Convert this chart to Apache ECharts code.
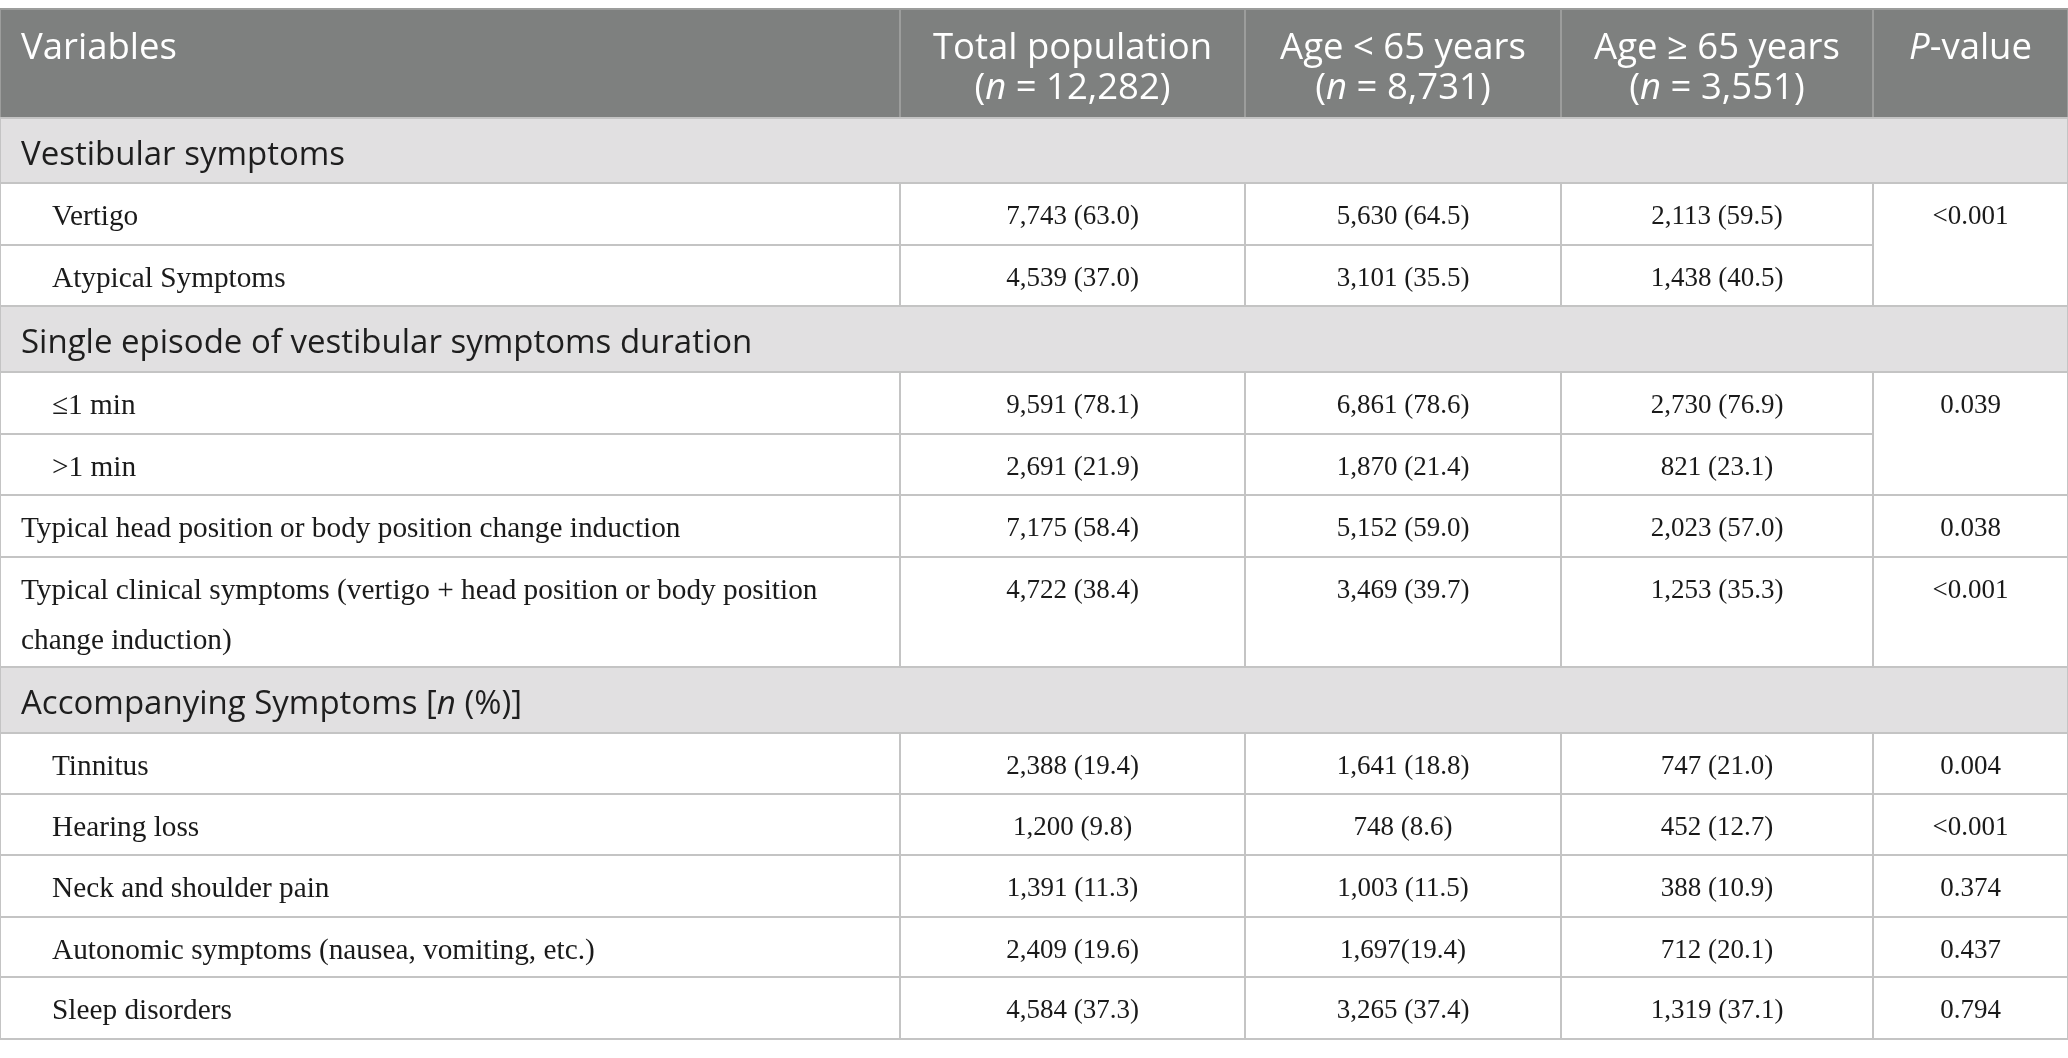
<!DOCTYPE html>
<html>
<head>
<meta charset="utf-8">
<script src="https://cdn.jsdelivr.net/npm/echarts@6/dist/echarts.min.js"></script>
<style>
  html, body { margin: 0; padding: 0; background: #fff; }
  #main { width: 2068px; height: 1058px; }
</style>
</head>
<body>
<div id="main"></div>
<script>
// table content
const headerLabels = [
  'Variables',
  'Total population\n({i|n} = 12,282)',
  'Age < 65 years\n({i|n} = 8,731)',
  'Age ≥ 65 years\n({i|n} = 3,551)',
  '{i|P}-value'
];
const rowLabels = [
  'Vestibular symptoms',
  'Vertigo',
  'Atypical Symptoms',
  'Single episode of vestibular symptoms duration',
  '≤1 min',
  '>1 min',
  'Typical head position or body position change induction',
  'Typical clinical symptoms (vertigo + head position or body position\nchange induction)',
  'Accompanying Symptoms [{i|n} (%)]',
  'Tinnitus',
  'Hearing loss',
  'Neck and shoulder pain',
  'Autonomic symptoms (nausea, vomiting, etc.)',
  'Sleep disorders'
];
const rowKinds = ['group', 'sub', 'sub', 'group', 'sub', 'sub', 'plain', 'plain', 'group', 'sub', 'sub', 'sub', 'sub', 'sub'];
const totalPopulation = [null, '7,743 (63.0)', '4,539 (37.0)', null, '9,591 (78.1)', '2,691 (21.9)', '7,175 (58.4)', '4,722 (38.4)', null, '2,388 (19.4)', '1,200 (9.8)', '1,391 (11.3)', '2,409 (19.6)', '4,584 (37.3)'];
const ageBelow65 = [null, '5,630 (64.5)', '3,101 (35.5)', null, '6,861 (78.6)', '1,870 (21.4)', '5,152 (59.0)', '3,469 (39.7)', null, '1,641 (18.8)', '748 (8.6)', '1,003 (11.5)', '1,697(19.4)', '3,265 (37.4)'];
const ageAbove65 = [null, '2,113 (59.5)', '1,438 (40.5)', null, '2,730 (76.9)', '821 (23.1)', '2,023 (57.0)', '1,253 (35.3)', null, '747 (21.0)', '452 (12.7)', '388 (10.9)', '712 (20.1)', '1,319 (37.1)'];
const pValues = [null, '<0.001', null, null, '0.039', null, '0.038', '<0.001', null, '0.004', '<0.001', '0.374', '0.437', '0.794'];
// how many rows each P-value cell covers (0 = merged into the one above)
const pRowSpan = [0, 2, 0, 0, 2, 0, 1, 1, 0, 1, 1, 1, 1, 1];

// layout (in axis units, 1 unit = 1 px)
const colEdges = [0, 900, 1245, 1561, 1873, 2068];
const tableTop = 9;
const headerHeight = 109;
const rowHeights = [65, 62, 61, 66, 62, 61, 62, 110, 66, 61, 61, 62, 60, 62];

const rowTops = [];
let yAcc = tableTop + headerHeight;
rowHeights.forEach(h => { rowTops.push(yAcc); yAcc += h; });

const valueColumns = [totalPopulation, ageBelow65, ageAbove65];

// build the list of cells
const cells = [];
headerLabels.forEach((label, c) => {
  cells.push({ kind: 'header', text: label, c0: c, c1: c + 1, y0: tableTop, y1: tableTop + headerHeight });
});
rowLabels.forEach((label, r) => {
  const y0 = rowTops[r], y1 = y0 + rowHeights[r];
  if (rowKinds[r] === 'group') {
    cells.push({ kind: 'group', text: label, c0: 0, c1: colEdges.length - 1, y0, y1 });
    return;
  }
  cells.push({ kind: rowKinds[r], text: label, c0: 0, c1: 1, y0, y1 });
  valueColumns.forEach((col, k) => {
    cells.push({ kind: 'value', text: col[r], c0: k + 1, c1: k + 2, y0, y1 });
  });
  if (pRowSpan[r] > 0) {
    let yEnd = y0;
    for (let j = r; j < r + pRowSpan[r]; j++) yEnd += rowHeights[j];
    cells.push({ kind: 'value', text: pValues[r], c0: 4, c1: 5, y0, y1: yEnd });
  }
});

const SANS = '"Open Sans", "Noto Sans", sans-serif';
const SERIF = '"Liberation Serif", "DejaVu Serif", serif';

function renderCell(params, api) {
  const cell = cells[params.dataIndex];
  const p0 = api.coord([colEdges[cell.c0], cell.y0]);
  const p1 = api.coord([colEdges[cell.c1], cell.y1]);
  const w = p1[0] - p0[0], h = p1[1] - p0[1];
  let fill = '#ffffff', stroke = '#c4c4c4';
  let font = '27px ' + SERIF, color = '#1a1a1a';
  let tx = p0[0] + w / 2, align = 'center', ty, vAlign = 'top', lh = 50;
  if (cell.kind === 'header') {
    fill = '#7e807f'; stroke = '#9c9d9c';
    font = '36.5px ' + SANS; color = '#ffffff'; lh = 40;
    ty = p0[1] + 19.5;
    if (cell.c0 === 0) { tx = p0[0] + 21; align = 'left'; }
  } else if (cell.kind === 'group') {
    fill = '#e1e0e1';
    font = '33px ' + SANS; color = '#1e1e1e';
    tx = p0[0] + 21; align = 'left';
    ty = p0[1] + h / 2 + 5; vAlign = 'middle';
  } else {
    ty = p0[1] + 34 - lh / 2;
    if (cell.kind === 'sub') { tx = p0[0] + 52; align = 'left'; font = '29.3px ' + SERIF; }
    if (cell.kind === 'plain') { tx = p0[0] + 21; align = 'left'; font = '29.3px ' + SERIF; }
  }
  const children = [{
    type: 'rect',
    shape: { x: p0[0], y: p0[1], width: w, height: h },
    style: { fill: fill, stroke: stroke, lineWidth: 2 }
  }];
  if (cell.text) {
    children.push({
      type: 'text',
      z2: 10,
      style: {
        text: cell.text,
        x: tx,
        y: ty,
        align: align,
        verticalAlign: vAlign,
        font: font,
        fill: color,
        lineHeight: lh,
        rich: {
          i: { fontStyle: 'italic', font: 'italic ' + font, fill: color, lineHeight: lh }
        }
      }
    });
  }
  return { type: 'group', children: children };
}

const myChart = echarts.init(document.getElementById('main'));

const option = {
  animation: false,
  grid: { left: 0, right: 0, top: 0, bottom: 0 },
  xAxis: { type: 'value', min: 0, max: 2068, show: false },
  yAxis: { type: 'value', min: 0, max: 1058, inverse: true, show: false },
  series: [{
    type: 'custom',
    renderItem: renderCell,
    clip: false,
    data: cells.map((cell, i) => [cell.c0, cell.y0, i])
  }]
};

myChart.setOption(option);
</script>
</body>
</html>
